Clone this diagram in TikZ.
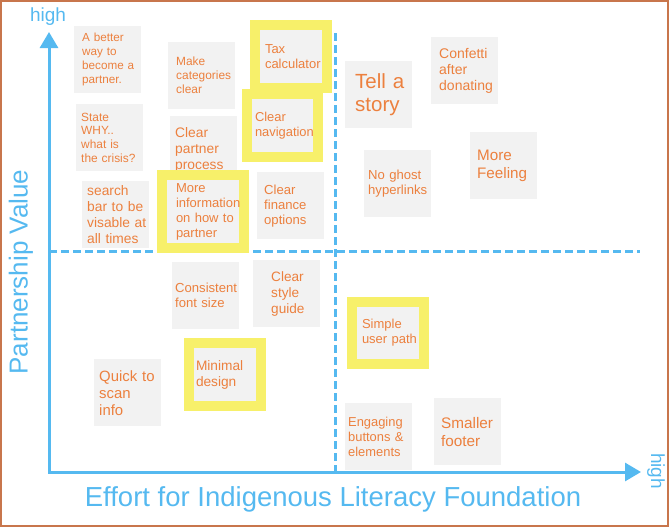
\documentclass[tikz,border=0pt]{standalone}
\usepackage{fontspec}
\setmainfont{Liberation Sans}
\usepackage{tikz}
\usetikzlibrary{arrows.meta}

\definecolor{axisblue}{RGB}{85,185,240}
\definecolor{noteorange}{RGB}{236,128,62}
\definecolor{notegray}{RGB}{242,242,242}
\definecolor{hlyellow}{RGB}{247,240,106}
\definecolor{framebrown}{RGB}{200,118,76}

\hyphenpenalty=10000
\exhyphenpenalty=10000

\newcommand{\nf}[2]{\fontsize{#1}{#2}\selectfont}

\tikzset{
  note/.style={fill=notegray, anchor=north west, minimum width=67pt, minimum height=67pt,
    inner xsep=0pt, inner ysep=0pt, align=left, text=noteorange, text width=#1},
  note/.default=51pt,
  hlnote/.style={note=#1, draw=hlyellow, line width=10pt, minimum width=72pt, minimum height=63pt},
  axis/.style={axisblue, line width=3pt},
  quadline/.style={axisblue, line width=3pt, dash pattern=on 8pt off 4pt},
  axislabel/.style={text=axisblue, inner sep=0pt},
}

\begin{document}
\begin{tikzpicture}[x=1pt, y=-1pt, >=Latex]
  \useasboundingbox (0,0) rectangle (670,528);
  \draw[framebrown, line width=1.5pt] (1,1) rectangle (668,526);

  \coordinate (origin) at (49,472);
  \coordinate (ytip) at (49,32);
  \coordinate (xtip) at (641,472);
  \coordinate (qtop) at (335,33);
  \coordinate (qbottom) at (335,472);
  \coordinate (qleft) at (49,251);
  \coordinate (qright) at (640,251);

  \draw[quadline] (qtop) -- (qbottom);
  \draw[quadline] (qleft) -- (qright);

  % low effort, high value
  \node[note, font=\nf{11.7}{14}] (better) at (74,26) {A better\\way to\\become~a\\partner.};
  \node[note, font=\nf{11.9}{14}] (categories) at (168,42) {Make\\categories\\clear};
  \node[note=57pt, font=\nf{11.9}{13.7}] (why) at (76,104) {State\\WHY..\\what is\\the crisis?};
  \node[note=57pt, font=\nf{13.8}{16}] (partner) at (170,116) {Clear\\partner\\process};
  \node[note=57pt, font=\nf{13.8}{16}] (search) at (82,181) {search\\bar to be\\visable~at\\all times};
  \node[note=53pt, font=\nf{13.1}{15}] (finance) at (257,172) {Clear\\finance\\options};
  \node[hlnote=52pt, font=\nf{13}{15.7}] (tax) at (250,20) {Tax\\calculator};
  \node[hlnote=55pt, minimum width=71pt, font=\nf{12.9}{15}] (navigation) at (242,89) {Clear\\navigation};
  \node[hlnote=54pt, minimum width=82pt, minimum height=73pt, font=\nf{13}{15}] (moreinfo) at (157,170)
    {More\\information\\on~how~to\\partner};

  % high effort, high value
  \node[note=47pt, font=\nf{20.5}{23}] (story) at (345,61) {Tell~a\\story};
  \node[note, font=\nf{14}{16}] (confetti) at (431,37) {Confetti\\after\\donating};
  \node[note=59pt, font=\nf{13.1}{15}] (ghost) at (364,150) {No ghost\\hyperlinks};
  \node[note=53pt, font=\nf{15.2}{18.7}] (feeling) at (470,132) {More\\Feeling};

  % low effort, low value
  \node[note=61pt, font=\nf{13.1}{15}] (consistent) at (172,262) {Consistent\\font size};
  \node[note=31pt, font=\nf{13.6}{16}] (styleguide) at (253,260) {Clear\\style\\guide};
  \node[note=57pt, font=\nf{14.9}{17}] (quick) at (94,359) {Quick to\\scan\\info};
  \node[hlnote=58pt, font=\nf{13.7}{16}] (minimal) at (184,338) {Minimal\\design};

  % high effort, low value
  \node[hlnote=52pt, minimum height=62pt, font=\nf{13}{15}] (simple) at (347,297) {Simple\\user~path};
  \node[note=61pt, font=\nf{12.9}{15}] (engaging) at (345,403) {Engaging\\buttons \&\\elements};
  \node[note=53pt, font=\nf{15.3}{18}] (footer) at (434,398) {Smaller\\footer};

  \draw[axis, {Triangle[length=16pt,width=18pt]}-{Triangle[length=16pt,width=18pt]}]
    (ytip) -- (origin) -- (xtip);

  \node[axislabel, font=\nf{19}{22}] (highy) at (48,17) {high};
  \node[axislabel, font=\nf{19}{22}, rotate=-90] (highx) at (656,471) {high};
  \node[axislabel, font=\nf{26}{30}, rotate=90] (ylabel) at (21,272) {Partnership Value};
  \node[axislabel, font=\nf{27.5}{32}] (xlabel) at (333,499) {Effort for Indigenous Literacy Foundation};
\end{tikzpicture}
\end{document}
